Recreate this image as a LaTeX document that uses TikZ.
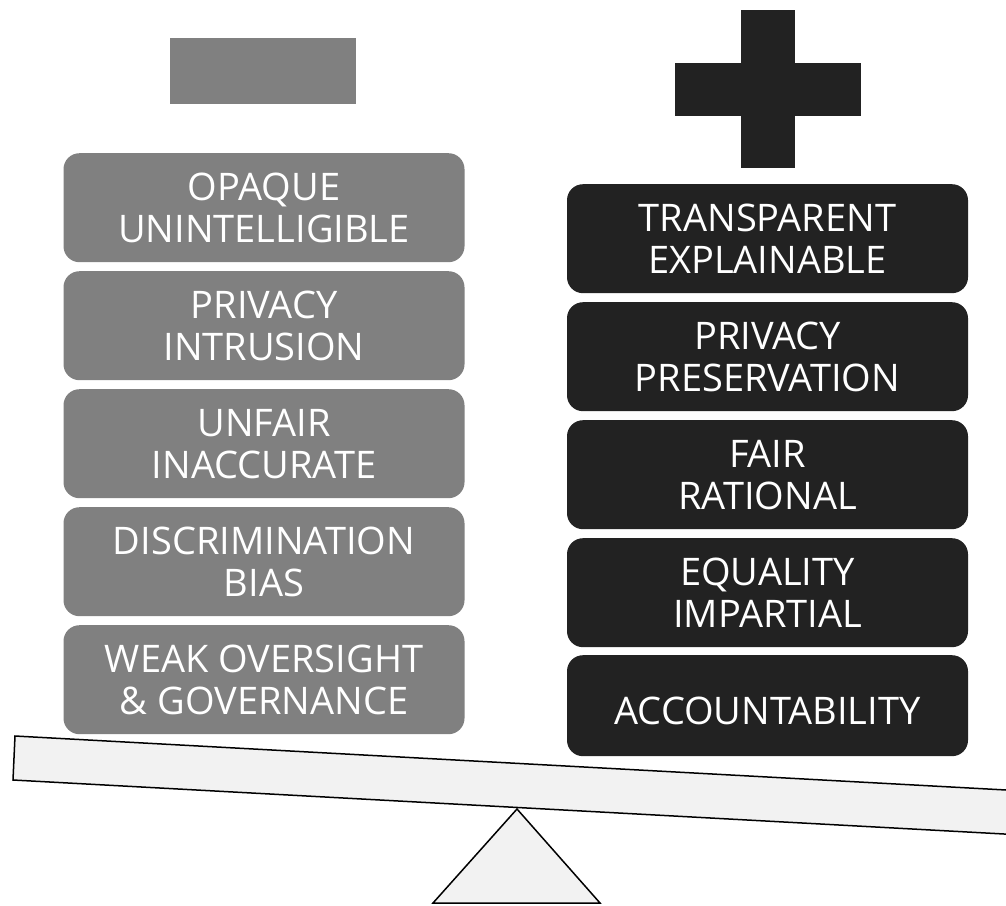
\documentclass[tikz,border=0pt]{standalone}
\usepackage{fontspec}
\setmainfont{Open Sans}
\definecolor{congray}{HTML}{808080}
\definecolor{prodark}{HTML}{222222}
\definecolor{beamfill}{HTML}{F2F2F2}
\begin{document}
\begin{tikzpicture}[x=1pt,y=-1pt,
  item/.style={rounded corners=16pt, minimum width=401pt, text=white,
    align=center, inner sep=0pt, anchor=north,
    font=\fontsize{38}{42}\selectfont},
  con/.style={item, fill=congray, minimum height=109pt},
  pro/.style={item, fill=prodark, minimum height=109pt},
  outline/.style={draw=black, line width=1.5pt, fill=beamfill, line join=miter}]
\useasboundingbox (0,0) rectangle (1006,905);
\clip (0,0) rectangle (1006,905);

% minus and plus signs
\fill[congray] (170,38) rectangle (356,104);
\fill[prodark] (741,10) rectangle (795,168);
\fill[prodark] (675,63) rectangle (861,116);

% left column: drawbacks
\node[con] (c1) at (264,153) {OPAQUE\\UNINTELLIGIBLE};
\node[con] (c2) at (264,271) {PRIVACY\\INTRUSION};
\node[con] (c3) at (264,389) {UNFAIR\\INACCURATE};
\node[con] (c4) at (264,507) {DISCRIMINATION\\BIAS};
\node[con] (c5) at (264,625) {WEAK OVERSIGHT\\\& GOVERNANCE};

% right column: benefits
\node[pro] (p1) at (767.5,184) {TRANSPARENT\\EXPLAINABLE};
\node[pro] (p2) at (767.5,302) {PRIVACY\\PRESERVATION};
\node[pro] (p3) at (767.5,420) {FAIR\\RATIONAL};
\node[pro] (p4) at (767.5,538) {EQUALITY\\IMPARTIAL};
\node[pro, minimum height=101pt, text height=37pt, text depth=0pt] (p5) at (767.5,655) {ACCOUNTABILITY};

% fulcrum and tilted beam
\draw[outline] (517,809) -- (600,903) -- (433,903) -- cycle;
\draw[outline] (15,736) -- (1030,791.3) -- (1028,835.3) -- (13,780) -- cycle;
\end{tikzpicture}
\end{document}
